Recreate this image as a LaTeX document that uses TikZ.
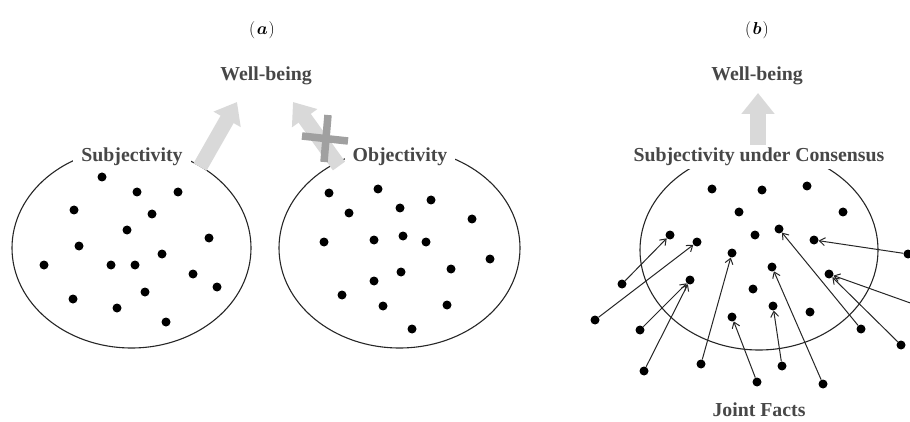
\documentclass[tikz,border=0pt]{standalone}
\usepackage{amsmath}
\usepackage{fontspec}
\setmainfont{Liberation Serif}
\usetikzlibrary{arrows.meta}
\definecolor{txtgray}{HTML}{474747}
\definecolor{arrgray}{HTML}{D9D9D9}
\definecolor{crossgray}{HTML}{A0A0A0}
\definecolor{linecol}{HTML}{262626}
\begin{document}
\begin{tikzpicture}[x=1pt,y=-1pt,
  lbl/.style={font=\fontsize{19.8}{22}\selectfont\bfseries, text=txtgray, fill=white, inner xsep=8pt, inner ysep=3pt},
  panelcap/.style={font=\fontsize{16.5}{18}\selectfont},
  dot/.style={circle, fill=black, inner sep=0pt, minimum size=9pt},
  oval/.style={draw=linecol, line width=1.1pt},
  fact/.style={draw=linecol, line width=1pt, -{Straight Barb[length=5.5pt,width=8pt]}},
  block/.style={draw=arrgray, line width=15pt, -{Triangle[length=20pt,width=30pt]}},
  crossbar/.style={draw=crossgray, line width=7.5pt}]
\useasboundingbox (0,0) rectangle (910,422);
\clip (0,0) rectangle (910,422);

% ellipses
\draw[oval] (131.5,248) ellipse [x radius=119.5pt, y radius=100pt];
\draw[oval] (399.5,248) ellipse [x radius=120.5pt, y radius=100pt];
\draw[oval] (759,250) ellipse [x radius=119pt, y radius=100pt];

% gray block arrows
\coordinate (ta) at (200,167);
\coordinate (ha) at (237,102);
\coordinate (tb) at (339,166);
\coordinate (hb) at (293,102);
\coordinate (tc) at (758,146);
\coordinate (hc) at (758,93);
\draw[block] (ta) -- (ha);
\draw[block] (tb) -- (hb);
\draw[draw=arrgray, line width=16pt, -{Triangle[length=21pt,width=32pt]}] (tc) -- (hc);

% labels
\node[panelcap] (capa) at (262,30) {$(\mkern1.5mu\boldsymbol{a}\mkern1mu)$};
\node[panelcap] (capb) at (757,30) {$(\mkern1.5mu\boldsymbol{b}\mkern1mu)$};
\node[lbl, fill=none] (wba) at (266,76) {Well-being};
\node[lbl, fill=none] (wbb) at (757,76) {Well-being};
\node[lbl] (subj) at (132,157) {Subjectivity};
\node[lbl] (obj) at (400,157) {Objectivity};
\node[lbl] (cons) at (759,157) {Subjectivity under Consensus};
\node[lbl] (joint) at (759,410) {Joint Facts};

% cross
\coordinate (x1) at (302,136);
\coordinate (x2) at (348,141);
\coordinate (x3) at (328,115);
\coordinate (x4) at (324,162);
\draw[crossbar] (x1) -- (x2);
\draw[crossbar] (x3) -- (x4);

% dots (a) left
\foreach \px/\py [count=\i] in {102/177,137/192,178/192,74/210,152/214,127/230,79/246,209/238,162/254,44/265,111/265,135/265,193/274,217/287,145/292,73/299,117/308,166/322}
  \node[dot] (l\i) at (\px,\py) {};
% dots (a) right
\foreach \px/\py [count=\i] in {329/193,378/189,431/200,349/213,400/208,472/219,324/242,374/240,403/236,426/242,490/259,451/269,401/272,374/281,342/295,383/306,447/305,412/329}
  \node[dot] (m\i) at (\px,\py) {};
% dots (b) inside
\foreach \px/\py [count=\i] in {712/189,762/190,807/186,739/212,843/212,670/235,697/242,755/235,779/229,814/240,732/253,772/267,829/274,690/280,753/289,773/306,810/312,732/317}
  \node[dot] (r\i) at (\px,\py) {};
% dots (b) sources
\foreach \px/\py [count=\i] in {622/284,595/320,640/330,644/371,701/364,757/382,782/366,823/384,861/329,901/345,908/254}
  \node[dot] (s\i) at (\px,\py) {};
\coordinate (s12) at (930,310);

% fact arrows
\draw[fact] (s1) -- (r6);
\draw[fact] (s2) -- (r7);
\draw[fact] (s3) -- (r14);
\draw[fact] (s4) -- (r14);
\draw[fact] (s5) -- (r11);
\draw[fact] (s6) -- (r18);
\draw[fact] (s7) -- (r16);
\draw[fact] (s8) -- (r12);
\draw[fact] (s9) -- (r9);
\draw[fact] (s10) -- (r13);
\draw[fact] (s11) -- (r10);
\draw[fact] (s12) -- (r13);
\end{tikzpicture}
\end{document}
